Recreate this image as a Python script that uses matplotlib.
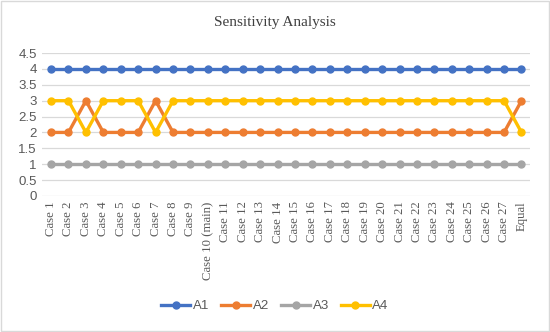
import matplotlib
matplotlib.use("Agg")
import matplotlib.pyplot as plt

# categories along the x axis
cases = ["Case " + str(i) for i in range(1, 28)]
cases[9] = "Case 10 (main)"
cases.append("Equal")

# ranks of each alternative per case
a1 = [4] * 28
a2 = [2, 2, 3, 2, 2, 2, 3, 2, 2, 2, 2, 2, 2, 2, 2, 2, 2, 2, 2, 2, 2, 2, 2, 2, 2, 2, 2, 3]
a3 = [1] * 28
a4 = [3, 3, 2, 3, 3, 3, 2, 3, 3, 3, 3, 3, 3, 3, 3, 3, 3, 3, 3, 3, 3, 3, 3, 3, 3, 3, 3, 2]

series = {"A1": a1, "A2": a2, "A3": a3, "A4": a4}
colors = {"A1": "#4472C4", "A2": "#ED7D31", "A3": "#A5A5A5", "A4": "#FFC000"}

fig = plt.figure(figsize=(5.5, 3.32), dpi=100)
ax = fig.add_axes([0.077, 0.41, 0.887, 0.43])

x = list(range(len(cases)))
for name, vals in series.items():
    ax.plot(x, vals, color=colors[name], lw=2.4, marker="o", ms=5, label=name)

ax.set_xlim(-0.5, len(cases) - 0.5)
ax.set_ylim(0, 4.5)
ax.set_yticks([0, 0.5, 1, 1.5, 2, 2.5, 3, 3.5, 4, 4.5])
ax.set_yticklabels(["0", "0.5", "1", "1.5", "2", "2.5", "3", "3.5", "4", "4.5"],
                   fontsize=9.5, color="#595959", family="Liberation Sans")
ax.set_xticks(x)
ax.set_xticklabels(cases, rotation=90, fontsize=9.2, color="#595959",
                   family="Liberation Serif")
ax.tick_params(length=0, pad=4)
ax.grid(axis="y", color="#D9D9D9", lw=0.9)
ax.set_axisbelow(True)
for s in ax.spines.values():
    s.set_visible(False)

fig.text(0.5, 0.932, "Sensitivity Analysis", ha="center", va="center",
         fontsize=11, color="#404040", family="Liberation Serif")

fig.legend(loc="center", bbox_to_anchor=(0.5, 0.078), ncol=4, frameon=False,
           handlelength=2.2, columnspacing=0.9, handletextpad=0.2,
           prop={"family": "Liberation Sans", "size": 9.5})
for t in fig.legends[0].get_texts():
    t.set_color("#595959")

# thin light border round the whole picture
fig.patches.append(plt.Rectangle((0.002, 0.003), 0.996, 0.994, transform=fig.transFigure,
                                 fill=False, ec="#D9D9D9", lw=1))

fig.savefig("out.png", dpi=100)
